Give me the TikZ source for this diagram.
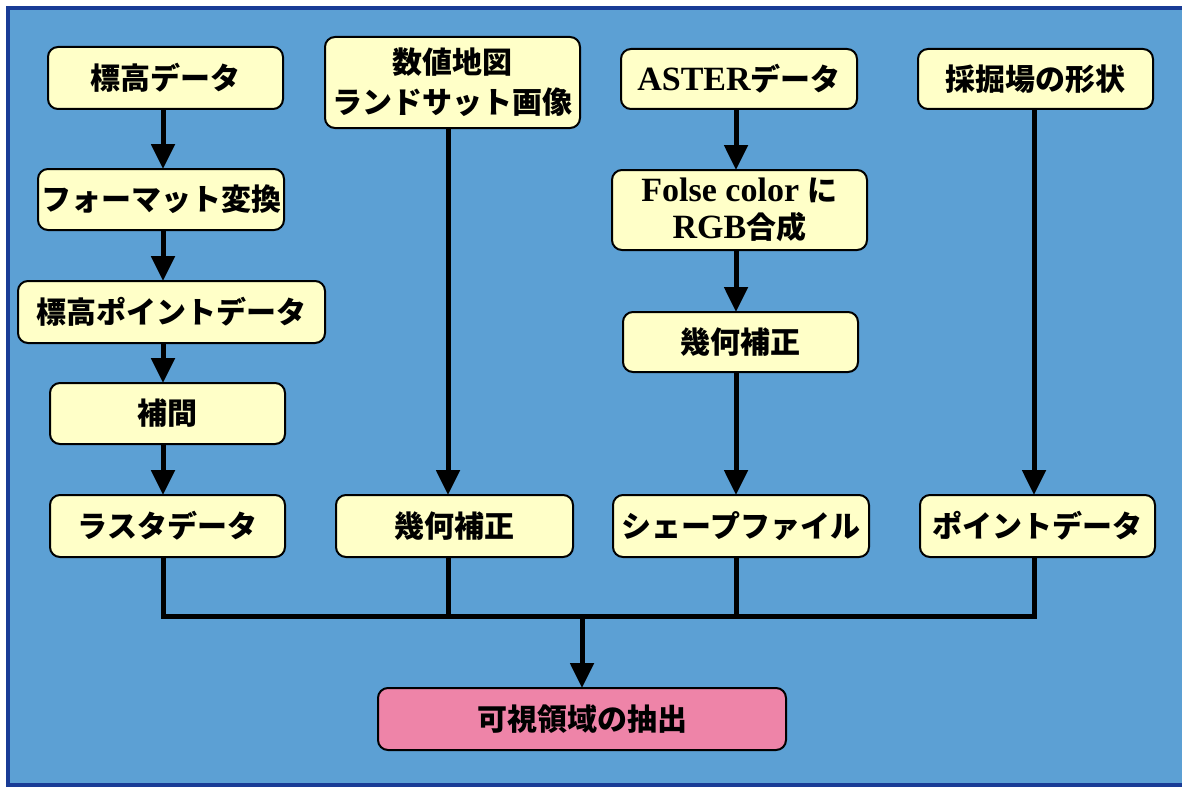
\documentclass[tikz,border=0pt]{standalone}
\usepackage{fontspec}
\usetikzlibrary{arrows.meta}
\newfontfamily\jp{Noto Sans CJK JP}
\newfontfamily\tms{Liberation Serif}
\newcommand{\lat}[1]{{\tms\bfseries\fontsize{34}{40}\selectfont #1}}
\definecolor{panelblue}{RGB}{92,160,212}
\definecolor{borderblue}{RGB}{25,60,150}
\definecolor{boxyellow}{RGB}{255,255,200}
\definecolor{boxpink}{RGB}{238,132,168}
\tikzset{
  ybox/.style={draw=black, line width=2pt, rounded corners=10pt, fill=boxyellow,
    inner sep=0pt, outer sep=0pt, anchor=north west, align=center,
    font=\jp\bfseries\fontsize{30}{40}\selectfont},
  pbox/.style={ybox, fill=boxpink},
  conn/.style={draw=black, line width=5pt},
  arr/.style={conn, -{Triangle[width=23pt,length=25pt]}}
}
\begin{document}
\begin{tikzpicture}[x=1pt,y=-1pt]
\useasboundingbox (0,0) rectangle (1182,789);
\fill[white] (0,0) rectangle (1182,789);
\fill[panelblue] (8,8) rectangle (1182,785);
\draw[borderblue, line width=4pt] (1182,8) -- (8,8) -- (8,785) -- (1182,785);

% column 1
\node[ybox, minimum width=235pt, minimum height=62pt] (a1) at (48,47) {標高データ};
\node[ybox, minimum width=246pt, minimum height=61pt] (a2) at (38,169) {フォーマット変換};
\node[ybox, minimum width=307pt, minimum height=62pt] (a3) at (18,281) {標高ポイントデータ};
\node[ybox, minimum width=235pt, minimum height=61pt] (a4) at (50,383) {補間};
\node[ybox, minimum width=235pt, minimum height=62pt] (a5) at (50,495) {ラスタデータ};
% column 2
\node[ybox, minimum width=255pt, minimum height=91pt] (b1) at (325,37) {数値地図\\ランドサット画像};
\node[ybox, minimum width=237pt, minimum height=62pt] (b2) at (336,495) {幾何補正};
% column 3
\node[ybox, minimum width=236pt, minimum height=60pt] (c1) at (621,49) {\lat{ASTER}データ};
\node[ybox, minimum width=255pt, minimum height=80pt, font=\jp\bfseries\fontsize{30}{37}\selectfont] (c2) at (612,170) {\lat{Folse color }に\\\lat{RGB}合成};
\node[ybox, minimum width=235pt, minimum height=60pt] (c3) at (623,312) {幾何補正};
\node[ybox, minimum width=256pt, minimum height=62pt] (c4) at (613,495) {シェープファイル};
% column 4
\node[ybox, minimum width=235pt, minimum height=60pt] (d1) at (918,49) {採掘場の形状};
\node[ybox, minimum width=235pt, minimum height=62pt] (d2) at (920,495) {ポイントデータ};
% result
\node[pbox, minimum width=408pt, minimum height=62pt] (p) at (378,688) {可視領域の抽出};

\coordinate (L1) at (163,0);
\coordinate (L2) at (448,0);
\coordinate (L3) at (736,0);
\coordinate (L4) at (1034,0);
\coordinate (bus1) at (163,616);
\coordinate (bus2) at (448,616);
\coordinate (bus3) at (736,616);
\coordinate (bus4) at (1034,616);
\coordinate (busm) at (582,616);

\draw[arr] (a1.south -| L1) -- (a2.north -| L1);
\draw[arr] (a2.south -| L1) -- (a3.north -| L1);
\draw[arr] (a3.south -| L1) -- (a4.north -| L1);
\draw[arr] (a4.south -| L1) -- (a5.north -| L1);
\draw[arr] (b1.south -| L2) -- (b2.north -| L2);
\draw[arr] (c1.south -| L3) -- (c2.north -| L3);
\draw[arr] (c2.south -| L3) -- (c3.north -| L3);
\draw[arr] (c3.south -| L3) -- (c4.north -| L3);
\draw[arr] (d1.south -| L4) -- (d2.north -| L4);

\draw[conn] (a5.south -| L1) -- (bus1) -- (bus4) -- (d2.south -| L4);
\draw[conn] (b2.south -| L2) -- (bus2);
\draw[conn] (c4.south -| L3) -- (bus3);
\draw[arr] (busm) -- (p.north -| busm);
\end{tikzpicture}
\end{document}
